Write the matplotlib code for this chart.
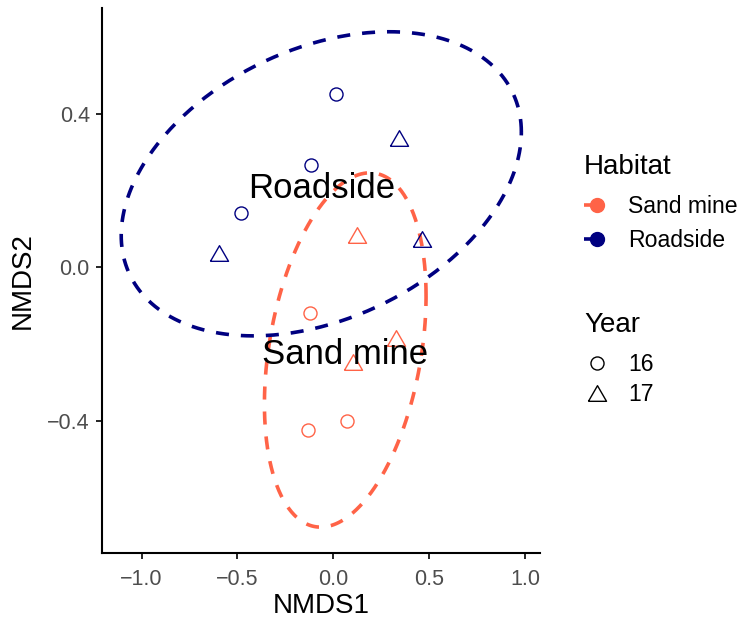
import numpy as np
import matplotlib
matplotlib.use('Agg')
import matplotlib.pyplot as plt
from matplotlib.lines import Line2D

plt.rcParams['font.family'] = ['Liberation Sans', 'DejaVu Sans']
plt.rcParams['lines.scale_dashes'] = False

# ---- data ----
habitat_levels = ['Sand mine', 'Roadside']
habitat_colors = ['#FF6347', '#000080']
year_levels = ['16', '17']

habitat = ['Sand mine'] * 6 + ['Roadside'] * 6
year = ['17', '16', '17', '17', '16', '16',
        '16', '17', '16', '16', '17', '17']
nmds1 = [0.124, -0.120, 0.327, 0.104, -0.132, 0.070,
         0.014, 0.341, -0.115, -0.483, -0.595, 0.461]
nmds2 = [0.086, -0.119, -0.185, -0.248, -0.424, -0.402,
         0.452, 0.339, 0.267, 0.142, 0.037, 0.074]

# ellipse shape (scatter-matrix) per habitat, in habitat_levels order
ell_sxx = [0.1777, 1.089]
ell_syy = [0.2139, 0.1576]
ell_sxy = [0.0595, 0.141]

x_ticks = [-1.0, -0.5, 0.0, 0.5, 1.0]
y_ticks = [-0.4, 0.0, 0.4]

# ---- figure ----
fig = plt.figure(figsize=(7.4, 6.18), dpi=100)
ax = fig.add_axes([102 / 740, 1 - 552.7 / 618, 438 / 740, 544.7 / 618])

tri = [(-1, -0.866), (1, -0.866), (0, 0.866), (-1, -0.866)]
marker_map = {'16': 'o', '17': tri}
size_map = {'16': 9.4, '17': 13}

hab = np.array(habitat)
yr = np.array(year)
x = np.array(nmds1)
y = np.array(nmds2)

for h, col in zip(habitat_levels, habitat_colors):
    for yv in year_levels:
        m = (hab == h) & (yr == yv)
        ax.plot(x[m], y[m], linestyle='none', marker=marker_map[yv],
                markersize=size_map[yv], markerfacecolor='none',
                markeredgecolor=col, markeredgewidth=1.0, zorder=3)

t = np.linspace(0, 2 * np.pi, 400)
circ = np.vstack([np.cos(t), np.sin(t)])
for i, (h, col) in enumerate(zip(habitat_levels, habitat_colors)):
    m = hab == h
    cx, cy = x[m].mean(), y[m].mean()
    M = np.array([[ell_sxx[i], ell_sxy[i]], [ell_sxy[i], ell_syy[i]]])
    L = np.linalg.cholesky(M)
    pts = L @ circ
    ax.plot(cx + pts[0], cy + pts[1], color=col, lw=2.6,
            linestyle=(0, (9.4, 8.6)), zorder=2)
    ax.annotate(h, (cx, cy), xytext=(0, -3.3), textcoords='offset points',
                ha='center', va='center', fontsize=25, color='black',
                zorder=4)

ax.set_xlim(-1.2066, 1.078)
ax.set_ylim(-0.7446, 0.6775)
ax.set_xticks(x_ticks)
ax.set_xticklabels(['\u22121.0', '\u22120.5', '0.0', '0.5', '1.0'])
ax.set_yticks(y_ticks)
ax.set_yticklabels(['\u22120.4', '0.0', '0.4'])
for s in ['top', 'right']:
    ax.spines[s].set_visible(False)
for s in ['left', 'bottom']:
    ax.spines[s].set_linewidth(1.5)
    ax.spines[s].set_color('black')
ax.tick_params(axis='both', length=4.3, width=1.2, color='black',
               labelcolor='#4D4D4D', labelsize=15.5)
ax.tick_params(axis='x', pad=7.4)
ax.tick_params(axis='y', pad=4.5)
ax.set_xlabel('NMDS1', fontsize=20, color='black', labelpad=2.5)
ax.set_ylabel('NMDS2', fontsize=20, color='black', labelpad=8)

# ---- legends ----
lab_fs = 16.6
title_fs = 20
hab_handles = [Line2D([0], [0], color=c, lw=2.6, linestyle=(0, (9.4, 30)),
                      marker='o', markersize=10, markerfacecolor=c,
                      markeredgecolor=c)
               for c in habitat_colors]
leg1 = fig.legend(hab_handles, habitat_levels, title='Habitat',
                  loc='upper left', bbox_to_anchor=(584 / 740, 1 - 154.4 / 618),
                  frameon=False, fontsize=lab_fs, title_fontsize=title_fs,
                  handlelength=1.13, handletextpad=0.78, labelspacing=0.48,
                  borderpad=0, borderaxespad=0, alignment='left')
leg1._legend_box.sep = 10.5
yr_handles = [Line2D([0], [0], linestyle='none', marker=marker_map[v],
                     markersize=size_map[v], markerfacecolor='none',
                     markeredgecolor='black', markeredgewidth=1.0)
              for v in year_levels]
leg2 = fig.legend(yr_handles, year_levels, title='Year',
                  loc='upper left', bbox_to_anchor=(584 / 740, 1 - 312 / 618),
                  frameon=False, fontsize=lab_fs, title_fontsize=title_fs,
                  handlelength=1.13, handletextpad=0.78, labelspacing=0.32,
                  borderpad=0, borderaxespad=0, alignment='left')
leg2._legend_box.sep = 10.5

fig.savefig('out.png', dpi=100)
